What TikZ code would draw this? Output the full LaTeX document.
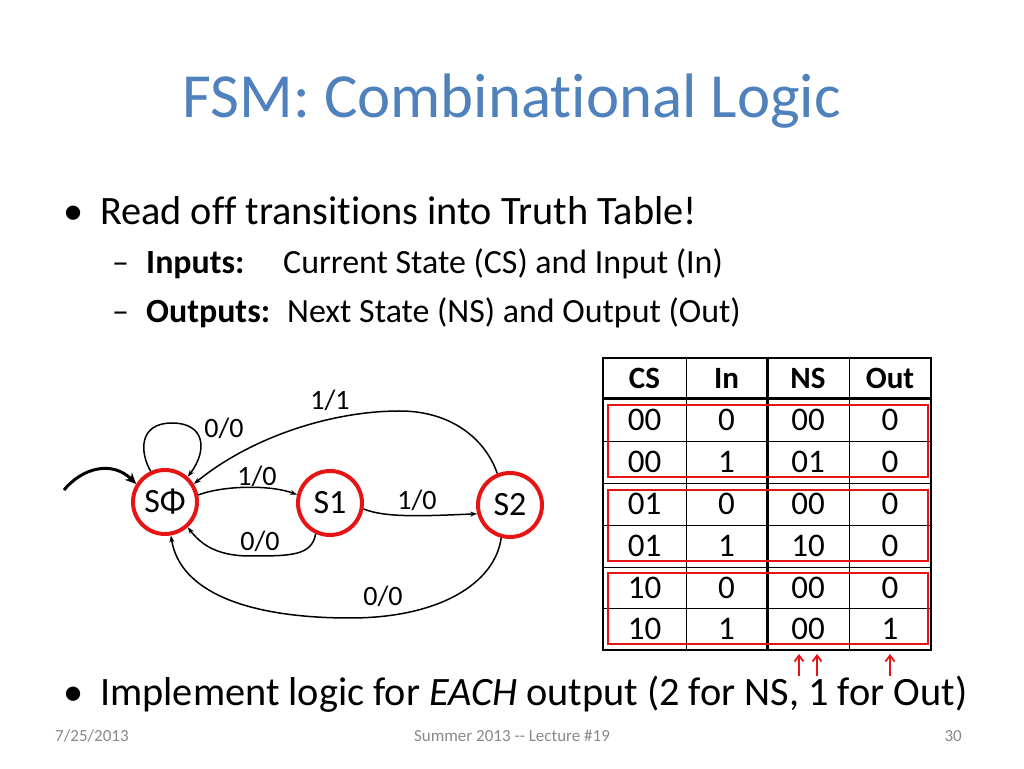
\documentclass[tikz,border=0pt]{standalone}
\usepackage{fontspec}
\setmainfont{Carlito}[Ligatures={NoCommon}]
\usetikzlibrary{arrows.meta}
\definecolor{titleblue}{RGB}{79,129,189}
\definecolor{footgray}{RGB}{137,137,137}
\definecolor{boxred}{RGB}{230,20,20}
\tikzset{
  title/.style={font=\fontsize{62.8}{70}\selectfont, text=titleblue, inner sep=0pt},
  bul/.style={font=\fontsize{40.3}{48}\selectfont, inner sep=0pt, anchor=base west},
  sub/.style={font=\fontsize{33.9}{38}\selectfont, inner sep=0pt, anchor=base west},
  foot/.style={font=\fontsize{17}{20}\selectfont, text=footgray, inner sep=0pt},
  state/.style={circle, draw=boxred, line width=4pt, minimum size=64pt, inner sep=0pt, font=\fontsize{34}{36}\selectfont},
  edge/.style={draw=black, line width=1.5pt, -{Stealth[length=7pt,width=5pt]}},
  elabel/.style={font=\fontsize{28}{30}\selectfont, inner sep=0pt},
  cell/.style={font=\fontsize{33}{36}\selectfont, inner sep=0pt},
  head/.style={font=\fontsize{31}{34}\selectfont\bfseries, inner sep=0pt},
  grp/.style={draw=boxred, line width=2.5pt},
  redarrow/.style={draw=boxred, line width=1.8pt, -{Straight Barb[length=6pt,width=9pt]}}
}
\begin{document}
\begin{tikzpicture}[x=1pt,y=1pt]
\useasboundingbox (0,0) rectangle (1024,768);
\fill[white] (0,0) rectangle (1024,768);
% title
\node[title, anchor=base] (ttl) at (512,650) {FSM: Combinational Logic};
% bullets
\node[bul] (b1) at (63,543) {•};
\node[bul] (t1) at (100,543) {Read off transitions into Truth Table!};
\node[sub] (d1) at (112,494) {–};
\node[sub] (i1) at (146,494) {\textbf{Inputs:}};
\node[sub] (i2) at (283,494) {Current State (CS) and Input (In)};
\node[sub] (d2) at (112,445) {–};
\node[sub] (o1) at (146,445) {\textbf{Outputs:}};
\node[sub] (o2) at (287,445) {Next State (NS) and Output (Out)};
\node[bul] (b2) at (63,63) {•};
\node[bul] (t2) at (100,63) {Implement logic for \textit{EACH} output (2 for NS, 1 for Out)};
% footer
\node[foot, anchor=base west] (f1) at (55,27) {7/25/2013};
\node[foot, anchor=base] (f2) at (512,27) {Summer 2013 {-}{-} Lecture \#19};
\node[foot, anchor=base east] (f3) at (962,27) {30};
% FSM
\node[state] (S0) at (165,266) {SΦ};
\node[state] (S1) at (330,265) {S1};
\node[state] (S2) at (510,263) {S2};
\coordinate (init) at (64,278);
\draw[line width=3pt, -{Stealth[length=11pt,width=10pt]}] (init) .. controls (82,300) and (112,308) .. (S0.148);
\draw[edge] (S0.115) .. controls (140,315) and (138,345) .. (172,345) .. controls (205,345) and (208,318) .. (S0.48);
\node[elabel] (l1) at (224,340) {0/0};
\draw[edge] (S2.112) .. controls (485,330) and (450,357) .. (400,357) .. controls (330,357) and (250,330) .. (S0.32);
\node[elabel] (l2) at (330,368) {1/1};
\draw[edge] (S0.12) .. controls (225,283) and (272,283) .. (S1.166);
\node[elabel] (l3) at (257,292) {1/0};
\draw[edge] (S1.245) .. controls (312,212) and (290,212) .. (250,212) .. controls (215,212) and (200,225) .. (S0.312);
\node[elabel] (l4) at (260,227) {0/0};
\draw[edge] (S1.350) .. controls (385,250) and (425,252) .. (S2.195);
\node[elabel] (l5) at (417,268) {1/0};
\draw[edge] (S2.255) .. controls (495,185) and (440,150) .. (350,150) .. controls (250,150) and (180,175) .. (S0.280);
\node[elabel] (l6) at (383,172) {0/0};
% table
\draw[line width=1.2pt] (603,410) rectangle (931,118);
\foreach \y in {327,285,243,201,160} \draw[line width=0.8pt] (603,\y) -- (931,\y);
\draw[line width=3pt] (603,369) -- (931,369);
\foreach \x in {686,849} \draw[line width=0.8pt] (\x,410) -- (\x,118);
\draw[line width=3pt] (767,410) -- (767,118);
\node[head] (h1) at (644.5,389.5) {CS};
\node[head] (h2) at (726.5,389.5) {In};
\node[head] (h3) at (808,389.5) {NS};
\node[head] (h4) at (890,389.5) {Out};
\foreach \r/\yy/\a/\b/\c/\d in {1/348/00/0/00/0, 2/306/00/1/01/0, 3/264/01/0/00/0, 4/222/01/1/10/0, 5/180.5/10/0/00/0, 6/139/10/1/00/1} {
  \node[cell] (c\r-1) at (644.5,\yy) {\a};
  \node[cell] (c\r-2) at (726.5,\yy) {\b};
  \node[cell] (c\r-3) at (808,\yy) {\c};
  \node[cell] (c\r-4) at (890,\yy) {\d};
}
\draw[grp] (608,363) rectangle (928,291);
\draw[grp] (608,278) rectangle (928,207);
\draw[grp] (608,195) rectangle (928,124);
\coordinate (a1) at (799,92); \coordinate (a1t) at (799,114);
\coordinate (a2) at (817,92); \coordinate (a2t) at (817,114);
\coordinate (a3) at (890,92); \coordinate (a3t) at (890,114);
\draw[redarrow] (a1) -- (a1t);
\draw[redarrow] (a2) -- (a2t);
\draw[redarrow] (a3) -- (a3t);
\end{tikzpicture}
\end{document}
